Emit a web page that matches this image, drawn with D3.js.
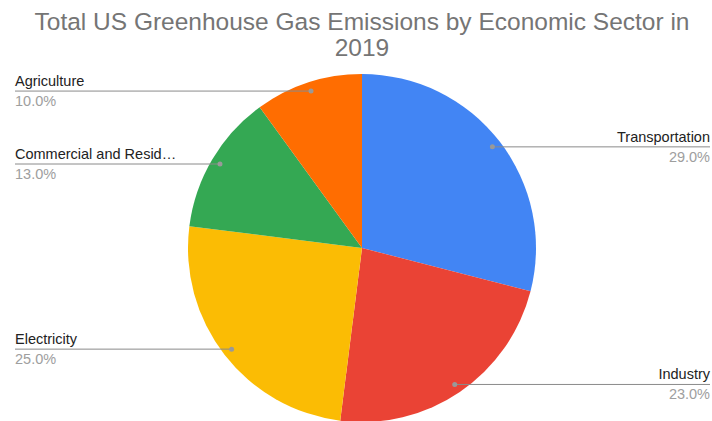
<!DOCTYPE html>
<html>
<head>
<meta charset="utf-8">
<script src="https://cdn.jsdelivr.net/npm/d3@7"></script>
<style>
  body { margin: 0; background: #fff; }
  text { font-family: "Liberation Sans", Arial, sans-serif; }
</style>
</head>
<body>
<div id="chart"></div>
<script>
// data
const sectors = ["Transportation", "Industry", "Electricity", "Commercial and Residential", "Agriculture"];
const shortNames = ["Transportation", "Industry", "Electricity", "Commercial and Resid\u2026", "Agriculture"];
const shares = [29, 23, 25, 13, 10];
const colors = ["#4285f4", "#ea4335", "#fbbc04", "#34a853", "#ff6d01"];

const width = 712, height = 421;
const cx = 362, cy = 248, radius = 174;

const svg = d3.select("#chart").append("svg")
    .attr("width", width)
    .attr("height", height);

// title
const title = svg.append("text")
    .attr("text-anchor", "middle")
    .attr("fill", "#757575")
    .style("font-size", "24.5px");
title.append("tspan").attr("x", 362).attr("y", 30)
    .text("Total US Greenhouse Gas Emissions by Economic Sector in");
title.append("tspan").attr("x", 362).attr("y", 56).text("2019");

const data = sectors.map((s, i) => ({ name: s, label: shortNames[i], value: shares[i], color: colors[i] }));

const pie = d3.pie().sort(null).value(d => d.value);
const arc = d3.arc().innerRadius(0).outerRadius(radius);
const dotArc = d3.arc().innerRadius(165).outerRadius(165);

const g = svg.append("g").attr("transform", `translate(${cx},${cy})`);
const arcs = pie(data);

g.selectAll("path.slice")
    .data(arcs)
    .enter().append("path")
    .attr("class", "slice")
    .attr("d", arc)
    .attr("fill", d => d.data.color);

// labels with leader lines
const labels = svg.append("g");
arcs.forEach(d => {
    const [dx, dy] = dotArc.centroid(d);
    const x = cx + dx, y = cy + dy;
    const mid = (d.startAngle + d.endAngle) / 2;
    const left = mid > Math.PI;
    const edge = left ? 15 : 710;

    labels.append("line")
        .attr("x1", x).attr("y1", y)
        .attr("x2", edge).attr("y2", y)
        .attr("stroke", "#8a8a8a")
        .attr("stroke-width", 1);
    labels.append("circle")
        .attr("cx", x).attr("cy", y).attr("r", 2.5)
        .attr("fill", "#999");
    labels.append("text")
        .attr("x", edge).attr("y", y - 5)
        .attr("text-anchor", left ? "start" : "end")
        .attr("fill", "#222")
        .style("font-size", "14.5px")
        .text(d.data.label);
    labels.append("text")
        .attr("x", edge).attr("y", y + 15)
        .attr("text-anchor", left ? "start" : "end")
        .attr("fill", "#9e9e9e")
        .style("font-size", "14.5px")
        .text(d.data.value.toFixed(1) + "%");
});
</script>
</body>
</html>
